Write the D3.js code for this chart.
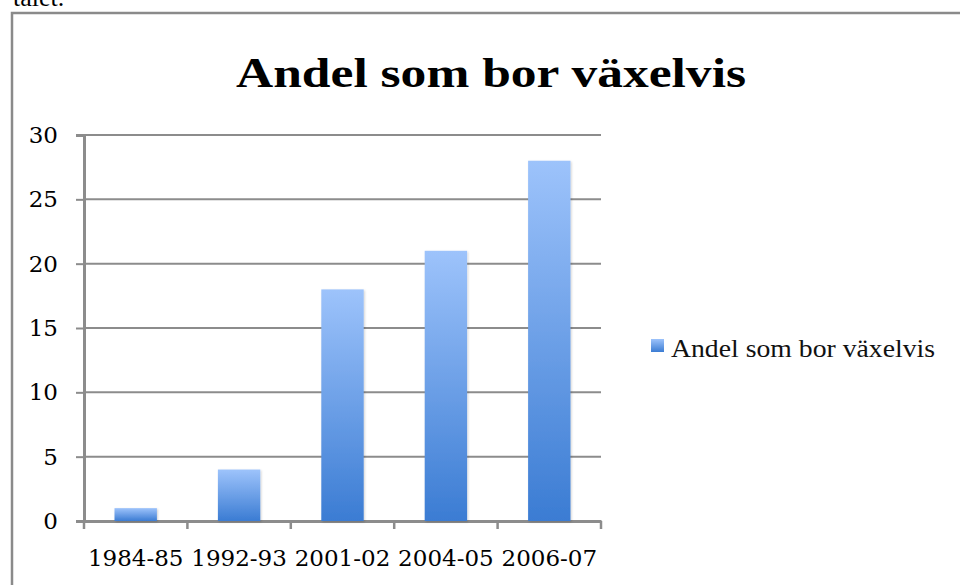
<!DOCTYPE html>
<html><head><meta charset="utf-8">
<script src="https://cdn.jsdelivr.net/npm/d3@7"></script>
<style>html,body{margin:0;padding:0;background:#fff;overflow:hidden}</style>
</head><body>
<svg id="c" width="960" height="585"></svg>
<script>
const categories = ["1984-85", "1992-93", "2001-02", "2004-05", "2006-07"];
const values = [1, 4, 18, 21, 28];
const yTicks = [0, 5, 10, 15, 20, 25, 30];
const seriesName = "Andel som bor växelvis";
const titleText = "Andel som bor växelvis";

const svg = d3.select("#c");
const m = {left: 84, right: 601, top: 135, bottom: 521};

const defs = svg.append("defs");
const g = defs.append("linearGradient").attr("id","bg").attr("x1",0).attr("y1",0).attr("x2",0).attr("y2",1);
g.append("stop").attr("offset","0%").attr("stop-color","#9dc3fb");
g.append("stop").attr("offset","100%").attr("stop-color","#3b7cd3");
const lg = defs.append("linearGradient").attr("id","lg").attr("x1",0).attr("y1",0).attr("x2",0).attr("y2",1);
lg.append("stop").attr("offset","0%").attr("stop-color","#9dc3fb");
lg.append("stop").attr("offset","100%").attr("stop-color","#3b7cd3");
const f = defs.append("filter").attr("id","sh").attr("x","-20%").attr("y","-20%").attr("width","140%").attr("height","140%");
f.append("feDropShadow").attr("dx",1).attr("dy",1).attr("stdDeviation",1.2).attr("flood-color","#000").attr("flood-opacity",0.18);

// page text from document above (partly outside the page, as in the reference)
svg.append("text").attr("x",13).attr("y",6).attr("font-family","Liberation Serif, serif")
  .attr("font-size",26).attr("fill","#000").text("talet.");

// frame
svg.append("rect").attr("x",12).attr("y",13).attr("width",1000).attr("height",700)
  .attr("fill","none").attr("stroke","#8a8a8a").attr("stroke-width",2.5);

const x = d3.scaleBand().domain(categories).range([m.left, m.right]).padding(0);
const y = d3.scaleLinear().domain([0, 30]).range([m.bottom, m.top]);

// gridlines
svg.append("g").selectAll("line").data(yTicks.filter(t=>t>0)).join("line")
  .attr("x1", m.left).attr("x2", m.right).attr("y1", d=>y(d)).attr("y2", d=>y(d))
  .attr("stroke","#8c8c8c").attr("stroke-width",2);

// y axis
const yAx = svg.append("g").attr("transform",`translate(${m.left},0)`)
  .call(d3.axisLeft(y).tickValues(yTicks).tickSize(8).tickPadding(18).tickFormat(d3.format("d")));
yAx.select(".domain").attr("stroke","#8c8c8c").attr("stroke-width",3);
yAx.selectAll(".tick line").attr("stroke","#8c8c8c").attr("stroke-width",2);
yAx.selectAll("text").attr("font-family","DejaVu Serif, serif").attr("font-size",23).attr("fill","#000");

// x axis
const xAx = svg.append("g").attr("transform",`translate(0,${m.bottom})`)
  .call(d3.axisBottom(x).tickSize(0).tickPadding(29));
xAx.select(".domain").attr("stroke","#8c8c8c").attr("stroke-width",3);
xAx.selectAll("text").attr("font-family","DejaVu Serif, serif").attr("font-size",23).attr("fill","#000");
// category boundary ticks
const bounds = categories.map(c=>x(c)).concat([x(categories[categories.length-1])+x.bandwidth()]);
svg.append("g").selectAll("line").data(bounds).join("line")
  .attr("x1",d=>d).attr("x2",d=>d).attr("y1",m.bottom).attr("y2",m.bottom+8)
  .attr("stroke","#8c8c8c").attr("stroke-width",2.5);

// bars
const bw = x.bandwidth()*0.41;
svg.append("g").selectAll("rect").data(values).join("rect")
  .attr("x",(d,i)=>x(categories[i])+x.bandwidth()/2 - bw/2)
  .attr("width",bw)
  .attr("y",d=>y(d)).attr("height",d=>y(0)-y(d))
  .attr("fill","url(#bg)").attr("filter","url(#sh)");

// title
svg.append("text").attr("x",491).attr("y",87).attr("text-anchor","middle")
  .attr("font-family","Liberation Serif, serif").attr("font-weight","bold").attr("font-size",43)
  .attr("textLength",510).attr("lengthAdjust","spacingAndGlyphs")
  .attr("fill","#000").text(titleText);

// legend
svg.append("rect").attr("x",651).attr("y",339).attr("width",13).attr("height",13).attr("fill","url(#lg)");
svg.append("text").attr("x",671).attr("y",357).attr("font-family","Liberation Serif, serif")
  .attr("font-size",25).attr("textLength",264).attr("lengthAdjust","spacingAndGlyphs")
  .attr("fill","#111").text(seriesName);
</script>
</body></html>
